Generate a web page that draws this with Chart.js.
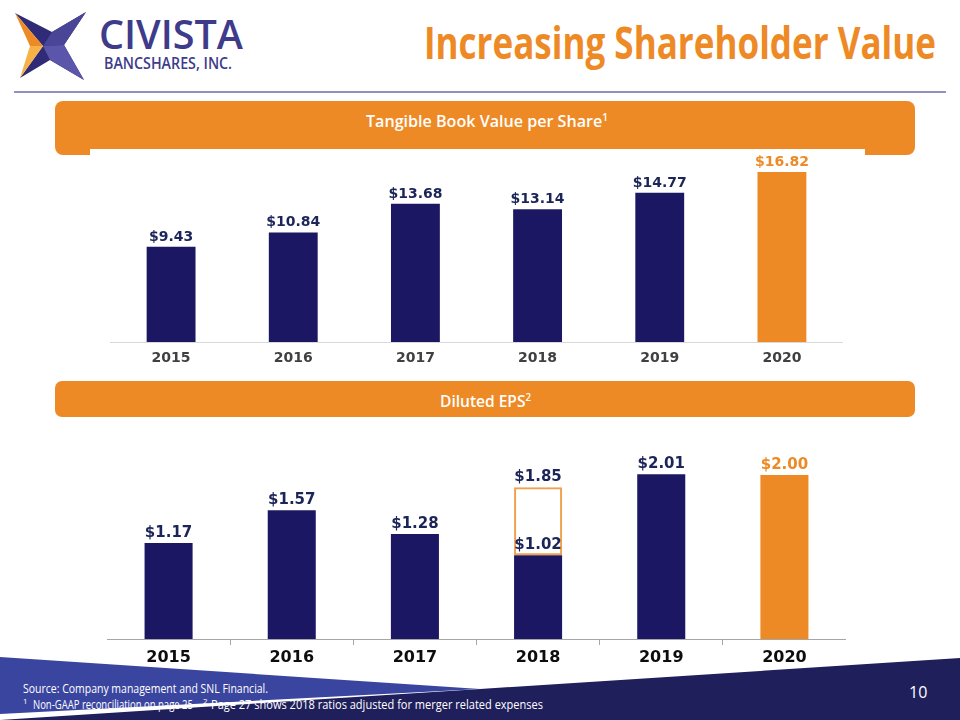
<!DOCTYPE html>
<html>
<head>
<meta charset="utf-8">
<script src="https://cdn.jsdelivr.net/npm/chart.js@4/dist/chart.umd.min.js"></script>
<style>
  body { margin: 0; }
  #page { position: relative; width: 960px; height: 720px; overflow: hidden; background: #fff; }
  #deco { position: absolute; left: 0; top: 0; }
  canvas { position: absolute; }
</style>
</head>
<body>
<div id="page">
  <svg id="deco" width="960" height="720" font-family="Open Sans">
    <!-- logo -->
    <polygon points="15,13 52,32 86,12 64,45 84,80 50,60 20,78 43,46" fill="#2f2b77"/>
    <polygon points="52,32 86,12 64,45 43,46" fill="#4a4597"/>
    <polygon points="64,45 84,80 50,60 43,46" fill="#5b56aa"/>
    <polygon points="15,13 43,46 30,46" fill="#ee8a25"/>
    <polygon points="30,46 43,46 20,78" fill="#f7b247"/>
    <text x="99" y="49" font-size="40" font-weight="600" fill="#3e3b8a" textLength="144" lengthAdjust="spacingAndGlyphs">CIVISTA</text>
    <text x="104" y="69" font-size="16" font-weight="600" fill="#3e3b8a" textLength="128" lengthAdjust="spacingAndGlyphs">BANCSHARES, INC.</text>
    <!-- title -->
    <text x="424" y="59" font-size="44" font-weight="700" fill="#ee8a25" textLength="512" lengthAdjust="spacingAndGlyphs">Increasing Shareholder Value</text>
    <line x1="14" y1="92" x2="946" y2="92" stroke="#8e92c2" stroke-width="2"/>
    <!-- banners -->
    <rect x="55" y="101" width="860" height="54" rx="8" fill="#ee8a25"/>
    <rect x="90" y="149" width="775" height="8" fill="#fff"/>
    <text x="366" y="127" font-size="16" font-weight="600" fill="#fff" textLength="242" lengthAdjust="spacingAndGlyphs">Tangible Book Value per Share<tspan font-size="10" dy="-6">1</tspan></text>
    <rect x="55" y="381" width="860" height="36" rx="7" fill="#ee8a25"/>
    <text x="440" y="407" font-size="16" font-weight="600" fill="#fff" textLength="91" lengthAdjust="spacingAndGlyphs">Diluted EPS<tspan font-size="10" dy="-6">2</tspan></text>
    <!-- footer -->
    <polygon points="480,689 960,658 960,720 0,720" fill="#1f1f5c"/>
    <polygon points="0,657 480,689 0,714" fill="#3a45a0"/>
    <text x="23" y="693" font-size="13" fill="#fff" textLength="245" lengthAdjust="spacingAndGlyphs">Source: Company management and SNL Financial.</text>
    <text x="23" y="704" font-size="8" fill="#fff">1</text>
    <text x="33" y="709" font-size="13" fill="#fff" textLength="160" lengthAdjust="spacingAndGlyphs">Non-GAAP reconciliation on page 25</text>
    <text x="203" y="704" font-size="8" fill="#fff">2</text>
    <text x="211" y="709" font-size="13" fill="#fff" textLength="332" lengthAdjust="spacingAndGlyphs">Page 27 shows 2018 ratios adjusted for merger related expenses</text>
    <text x="909" y="698" font-size="16" fill="#fff">10</text>
  </svg>
  <canvas id="tbvChart" width="733" height="222" style="left:110px;top:150px"></canvas>
  <canvas id="epsChart" width="739" height="240" style="left:107px;top:434px"></canvas>
</div>
<script>
const years = ['2015', '2016', '2017', '2018', '2019', '2020'];
const tbvps = [9.43, 10.84, 13.68, 13.14, 14.77, 16.82];
const eps = [1.17, 1.57, 1.28, 1.02, 2.01, 2.00];
const epsAdjusted = [null, null, null, [1.02, 1.85], null, null];

const navy = '#1c1762';
const orange = '#ee8a25';
const barColors = years.map((y, i) => i === years.length - 1 ? orange : navy);
const labelColors = years.map((y, i) => i === years.length - 1 ? orange : '#1c2557');

// draws "$x.xx" above every bar
const valueLabels = {
    id: 'valueLabels',
    afterDatasetsDraw(chart, args, opts) {
        const ctx = chart.ctx;
        ctx.save();
        ctx.font = `bold ${opts.size}px "DejaVu Sans"`;
        ctx.textAlign = 'center';
        ctx.textBaseline = 'alphabetic';
        chart.data.datasets.forEach((ds, di) => {
            const meta = chart.getDatasetMeta(di);
            meta.data.forEach((bar, i) => {
                const v = ds.data[i];
                if (v === null) return;
                const top = Array.isArray(v) ? v[1] : v;
                ctx.fillStyle = labelColors[i];
                ctx.fillText('$' + top.toFixed(2), bar.x, bar.y - 6);
            });
        });
        ctx.restore();
    }
};

new Chart(document.getElementById('tbvChart'), {
    type: 'bar',
    data: {
        labels: years,
        datasets: [{
            data: tbvps,
            backgroundColor: barColors,
            categoryPercentage: 1,
            barPercentage: 0.4
        }]
    },
    options: {
        responsive: false,
        animation: false,
        plugins: { legend: { display: false }, tooltip: { enabled: false }, valueLabels: { size: 14 } },
        scales: {
            x: {
                grid: { display: false, drawTicks: false },
                border: { display: true, color: '#d9d9d9', width: 1 },
                ticks: { color: '#404040', padding: 8, font: { family: 'DejaVu Sans', weight: 'bold', size: 14 } },
                afterFit: (s) => { s.height = 30; }
            },
            y: { display: false, min: 0, max: 19 }
        }
    },
    plugins: [valueLabels]
});

new Chart(document.getElementById('epsChart'), {
    type: 'bar',
    data: {
        labels: years,
        datasets: [{
            data: epsAdjusted,
            backgroundColor: 'rgba(255,255,255,0)',
            borderColor: '#f0a04b',
            borderWidth: 2,
            borderSkipped: false,
            grouped: false,
            order: 0,
            categoryPercentage: 1,
            barPercentage: 0.39
        }, {
            data: eps,
            backgroundColor: barColors,
            grouped: false,
            order: 1,
            categoryPercentage: 1,
            barPercentage: 0.39
        }]
    },
    options: {
        responsive: false,
        animation: false,
        plugins: { legend: { display: false }, tooltip: { enabled: false }, valueLabels: { size: 15 } },
        scales: {
            x: {
                grid: { display: true, drawOnChartArea: false, offset: true, drawTicks: true, tickLength: 6, color: '#a6a6a6' },
                border: { display: true, color: '#a6a6a6', width: 1 },
                ticks: { color: '#0d0d0d', padding: 3, font: { family: 'DejaVu Sans', weight: 'bold', size: 16 } },
                afterFit: (s) => { s.height = 35; }
            },
            y: { display: false, min: 0, max: 2.5 }
        }
    },
    plugins: [valueLabels]
});
</script>
</body>
</html>
